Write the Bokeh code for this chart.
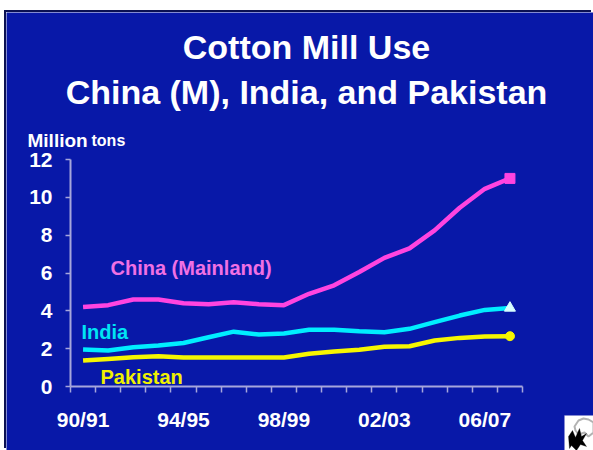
from bokeh.plotting import figure
from bokeh.models import (ColumnDataSource, Range1d, FixedTicker, Label,
                          BoxAnnotation, PolyAnnotation)
from bokeh.embed import file_html
from bokeh.resources import INLINE

# ---- data ----
seasons = ["90/91", "91/92", "92/93", "93/94", "94/95", "95/96", "96/97",
           "97/98", "98/99", "99/00", "00/01", "01/02", "02/03", "03/04",
           "04/05", "05/06", "06/07", "07/08"]
china = [4.2, 4.3, 4.6, 4.6, 4.4, 4.35, 4.45, 4.35, 4.3, 4.9, 5.35, 6.05,
         6.8, 7.3, 8.25, 9.45, 10.45, 11.0]
india = [1.95, 1.9, 2.08, 2.17, 2.3, 2.6, 2.9, 2.75, 2.8, 3.0, 3.0, 2.92,
         2.87, 3.05, 3.4, 3.75, 4.05, 4.15]
pakistan = [1.37, 1.46, 1.55, 1.6, 1.53, 1.53, 1.53, 1.53, 1.53, 1.73, 1.85,
            1.94, 2.1, 2.13, 2.43, 2.57, 2.64, 2.66]
y_ticks = [0, 2, 4, 6, 8, 10, 12]
label_step = 4

BG = "#0818a8"
AXIS = "#a6a6dc"
FONT = "Liberation Sans"

# ---- layout (page pixels) ----
PAGE_W, PAGE_H = 593, 450
FIG_X0, FIG_Y0 = 6, 12          # top-left of the blue slide
AX_LEFT, AX_RIGHT = 70, 522     # x axis ends
AX_BOTTOM, AX_TOP = 386, 159    # y = 0 and y = 12

n = len(seasons)
ppx = (AX_RIGHT - AX_LEFT) / n
ppy = (AX_BOTTOM - AX_TOP) / (y_ticks[-1] - y_ticks[0])
x_start = -(AX_LEFT - FIG_X0) / ppx
x_end = (PAGE_W - AX_LEFT) / ppx
y_start = y_ticks[0] - (PAGE_H - AX_BOTTOM) / ppy
y_end = y_ticks[0] + (AX_BOTTOM - FIG_Y0) / ppy

xs = [i + 0.5 for i in range(n)]
src = ColumnDataSource(dict(x=xs, china=china, india=india, pakistan=pakistan))

p = figure(width=PAGE_W - FIG_X0, height=PAGE_H - FIG_Y0, output_backend="svg",
           toolbar_location=None,
           x_range=Range1d(x_start, x_end), y_range=Range1d(y_start, y_end),
           min_border=0)
p.styles = {"margin-left": f"{FIG_X0}px", "margin-top": f"{FIG_Y0}px",
            "box-shadow": "-2px -2px 0 0 #0b1152"}
p.background_fill_color = BG
p.border_fill_color = BG
p.outline_line_color = None
p.grid.visible = False

# x axis: minor ticks at season boundaries, labels at every 4th season
xa = p.xaxis[0]
xa.fixed_location = y_ticks[0]
xa.bounds = (0, n)
label_pos = [xs[i] for i in range(0, n, label_step)]
xa.ticker = FixedTicker(ticks=label_pos, minor_ticks=list(range(n + 1)))
xa.major_label_overrides = {xs[i]: seasons[i] for i in range(0, n, label_step)}
xa.major_tick_out = 0
xa.major_tick_in = 0
xa.minor_tick_out = 6
xa.minor_tick_in = 0
xa.minor_tick_line_color = AXIS
xa.minor_tick_line_width = 1.5
xa.axis_line_color = AXIS
xa.axis_line_width = 2
xa.major_label_standoff = 15
xa.major_label_text_color = "white"
xa.major_label_text_font = FONT
xa.major_label_text_font_style = "bold"
xa.major_label_text_font_size = "21px"

ya = p.yaxis[0]
ya.fixed_location = 0
ya.bounds = (y_ticks[0], y_ticks[-1])
ya.ticker = FixedTicker(ticks=y_ticks)
ya.major_tick_out = 5
ya.major_tick_in = 0
ya.minor_tick_out = 0
ya.minor_tick_in = 0
ya.major_tick_line_color = AXIS
ya.major_tick_line_width = 1.5
ya.axis_line_color = AXIS
ya.axis_line_width = 2
ya.major_label_standoff = 13
ya.major_label_text_color = "white"
ya.major_label_text_font = FONT
ya.major_label_text_font_style = "bold"
ya.major_label_text_font_size = "21px"

# series
p.line("x", "china", source=src, line_color="#ff44e0", line_width=4.5)
p.line("x", "india", source=src, line_color="#00eeff", line_width=4.5)
p.line("x", "pakistan", source=src, line_color="#f6f600", line_width=4.5)
p.scatter([xs[-1]], [china[-1]], marker="square", size=10, fill_color="#ff44e0",
          line_color="#ff44e0")
p.scatter([xs[-1]], [india[-1]], marker="triangle", size=11, fill_color="#d8ffff",
          line_color="#d8ffff")
p.scatter([xs[-1]], [pakistan[-1]], marker="circle", size=9, fill_color="#f6f600",
          line_color="#f6f600")


def sx(ax):
    return ax - FIG_X0


def sy(ay):
    return PAGE_H - ay


def lab(text, ax, ay, size, color="white", align="left", baseline="middle"):
    p.add_layout(Label(x=sx(ax), y=sy(ay), x_units="screen", y_units="screen",
                       text=text, text_font=FONT, text_font_style="bold",
                       text_font_size=size, text_color=color,
                       text_align=align, text_baseline=baseline))


# titles
lab("Cotton Mill Use", 306, 46, "34px", align="center")
lab("China (M), India, and Pakistan", 306, 91, "34px", align="center")
# y axis unit
lab("Million", 27, 140, "19px", baseline="alphabetic")
lab("tons", 91, 140, "16px", baseline="alphabetic")
# series labels
lab("China (Mainland)", 110, 267, "20px", color="#f070e4")
lab("India", 81, 331, "20px", color="#00e4f4")
lab("Pakistan", 100, 376, "20px", color="#f0f000")

# cotton icon (bottom-right corner)
p.add_layout(BoxAnnotation(left=sx(564), right=sx(600), bottom=sy(455), top=sy(415),
                           left_units="screen", right_units="screen",
                           bottom_units="screen", top_units="screen",
                           fill_color="white", fill_alpha=1, line_color="#9090d0",
                           line_width=1))
leaf_x = [568, 572, 575, 579, 581, 586, 582, 586, 580, 576, 571, 569]
leaf_y = [436, 430, 437, 428, 436, 433, 440, 446, 444, 450, 445, 448]
p.add_layout(PolyAnnotation(xs=[sx(v) for v in leaf_x], ys=[sy(v) for v in leaf_y],
                            xs_units="screen", ys_units="screen",
                            fill_color="black", fill_alpha=1, line_color="black"))
boll_x = [574, 578, 583, 588, 593, 593, 588, 584, 578, 575]
boll_y = [426, 420, 418, 419, 422, 432, 436, 432, 434, 430]
p.add_layout(PolyAnnotation(xs=[sx(v) for v in boll_x], ys=[sy(v) for v in boll_y],
                            xs_units="screen", ys_units="screen",
                            fill_alpha=0, line_color="black", line_width=2))

open("out.html", "w").write(file_html(p, INLINE))
